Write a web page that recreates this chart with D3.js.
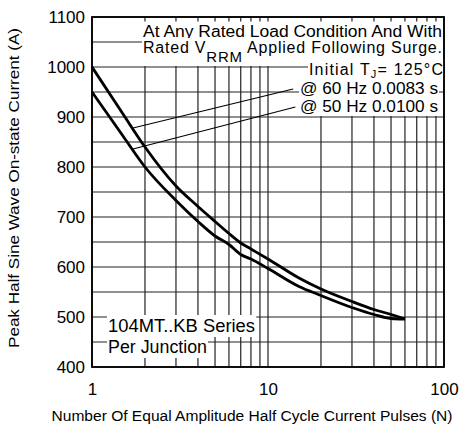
<!DOCTYPE html>
<html><head><meta charset="utf-8">
<script src="https://cdn.jsdelivr.net/npm/d3@7"></script>
<style>
body{margin:0;background:#fff}
svg{display:block}
text{font-family:"Liberation Sans",Arial,sans-serif;fill:#000}
</style>
</head><body>
<svg id="c" width="463" height="429"></svg>
<script>
// ---- data ----
const pulses    = [1, 1.5, 2, 3, 4, 5, 6, 7, 8, 10, 15, 20, 30, 40, 50, 60];
const surge60Hz = [1000, 906, 840, 762, 721, 691, 667, 648, 636, 616, 578, 556, 531, 515, 505, 496];
const surge50Hz = [950, 862, 800, 733, 691, 662, 645, 625, 616, 597, 561, 543, 519, 505, 497, 496];
const xTickLabels = [1, 10, 100];
const yTickLabels = [400, 500, 600, 700, 800, 900, 1000, 1100];
const xGridValues = [1,2,3,4,5,6,7,8,9,10,20,30,40,50,60,70,80,90,100];
const yGridValues = [400,450,500,550,600,650,700,750,800,850,900,950,1000,1050,1100];
// leader lines: [N, current] from curve to label
const leader60 = [[1.71, 878], [13.9, 956]];
const leader50 = [[1.71, 836], [14.3, 920]];

// ---- layout ----
const svg = d3.select("#c");
const L = 92, R = 444, T = 17, B = 367;
const x = d3.scaleLog().domain([1, 100]).range([L, R]);
const y = d3.scaleLinear().domain([400, 1100]).range([B, T]);

// grid
const grid = svg.append("g").attr("stroke", "#222").attr("stroke-width", 1.2);
grid.selectAll("line.v").data(xGridValues).join("line")
  .attr("x1", d => x(d)).attr("x2", d => x(d)).attr("y1", T).attr("y2", B);
grid.selectAll("line.h").data(yGridValues).join("line")
  .attr("y1", d => y(d)).attr("y2", d => y(d)).attr("x1", L).attr("x2", R);

// axes labels (via d3 axes, no domain/ticks drawn)
const xAxis = d3.axisBottom(x).tickValues(xTickLabels).tickFormat(d3.format("d")).tickSize(0).tickPadding(16);
const gx = svg.append("g").attr("transform", `translate(0,${B})`).call(xAxis);
gx.select(".domain").remove();
gx.selectAll("text").attr("font-size", 17).attr("font-family", '"Liberation Sans",Arial,sans-serif');

const yAxis = d3.axisLeft(y).tickValues(yTickLabels).tickFormat(d3.format("d")).tickSize(0).tickPadding(7);
const gy = svg.append("g").attr("transform", `translate(${L},0)`).call(yAxis);
gy.select(".domain").remove();
gy.selectAll("text").attr("font-size", 17).attr("font-family", '"Liberation Sans",Arial,sans-serif');

// annotation boxes
const ann = svg.append("g");
function boxed(build) {
  const g = ann.append("g");
  const t = build(g);
  const bb = t.node().getBBox();
  g.insert("rect", "text").attr("x", bb.x - 1).attr("y", bb.y - 1)
    .attr("width", bb.width + 2).attr("height", bb.height + 2).attr("fill", "#fff");
  return t;
}

boxed(g => g.append("text").attr("x", 143).attr("y", 36.5).attr("font-size", 16)
  .attr("textLength", 299).attr("lengthAdjust", "spacingAndGlyphs")
  .text("At Any Rated Load Condition And With"));

boxed(g => {
  const t = g.append("text").attr("x", 143).attr("y", 53).attr("font-size", 16)
    .attr("textLength", 299).attr("lengthAdjust", "spacing");
  t.append("tspan").text("Rated V");
  t.append("tspan").attr("dy", 9).attr("font-size", 15).text("RRM");
  t.append("tspan").attr("dy", -9).text(" Applied Following Surge.");
  return t;
});

boxed(g => {
  const t = g.append("text").attr("x", 309).attr("y", 75).attr("font-size", 16)
    .attr("textLength", 134).attr("lengthAdjust", "spacing");
  t.append("tspan").text("Initial T");
  t.append("tspan").attr("dy", 3).attr("font-size", 11).text("J");
  t.append("tspan").attr("dy", -3).text("= 125°C");
  return t;
});

boxed(g => g.append("text").attr("x", 300).attr("y", 93.5).attr("font-size", 16)
  .attr("textLength", 138).attr("lengthAdjust", "spacingAndGlyphs").text("@ 60 Hz 0.0083 s"));
boxed(g => g.append("text").attr("x", 300).attr("y", 112).attr("font-size", 16)
  .attr("textLength", 138).attr("lengthAdjust", "spacingAndGlyphs").text("@ 50 Hz 0.0100 s"));

boxed(g => g.append("text").attr("x", 108).attr("y", 332).attr("font-size", 17.5)
  .attr("textLength", 147).attr("lengthAdjust", "spacingAndGlyphs").text("104MT..KB Series"));
boxed(g => g.append("text").attr("x", 108).attr("y", 353).attr("font-size", 17.5)
  .attr("textLength", 99).attr("lengthAdjust", "spacingAndGlyphs").text("Per Junction"));

// leaders
const lineGen = d3.line().x(d => x(d[0])).y(d => y(d[1]));
svg.append("g").attr("fill", "none").attr("stroke", "#000").attr("stroke-width", 1.1)
  .selectAll("path").data([leader60, leader50]).join("path").attr("d", lineGen);

// curves
const curve = d3.line().x(d => x(d[0])).y(d => y(d[1])).curve(d3.curveMonotoneX);
const series = [surge60Hz, surge50Hz].map(s => pulses.map((n, i) => [n, s[i]]));
svg.append("g").attr("fill", "none").attr("stroke", "#000").attr("stroke-width", 2.8)
  .attr("stroke-linejoin", "round")
  .selectAll("path").data(series).join("path").attr("d", curve);

// frame
svg.append("rect").attr("x", L).attr("y", T).attr("width", R - L).attr("height", B - T)
  .attr("fill", "none").attr("stroke", "#000").attr("stroke-width", 1.8);

// titles
svg.append("text").attr("x", 252).attr("y", 421).attr("text-anchor", "middle")
  .attr("font-size", 15.5).attr("textLength", 401).attr("lengthAdjust", "spacingAndGlyphs")
  .text("Number Of Equal Amplitude Half Cycle Current Pulses (N)");
svg.append("text").attr("transform", "translate(19,188) rotate(-90)").attr("text-anchor", "middle")
  .attr("font-size", 15.5).attr("textLength", 320).attr("lengthAdjust", "spacingAndGlyphs")
  .text("Peak Half Sine Wave On-state Current (A)");
</script>
</body></html>
